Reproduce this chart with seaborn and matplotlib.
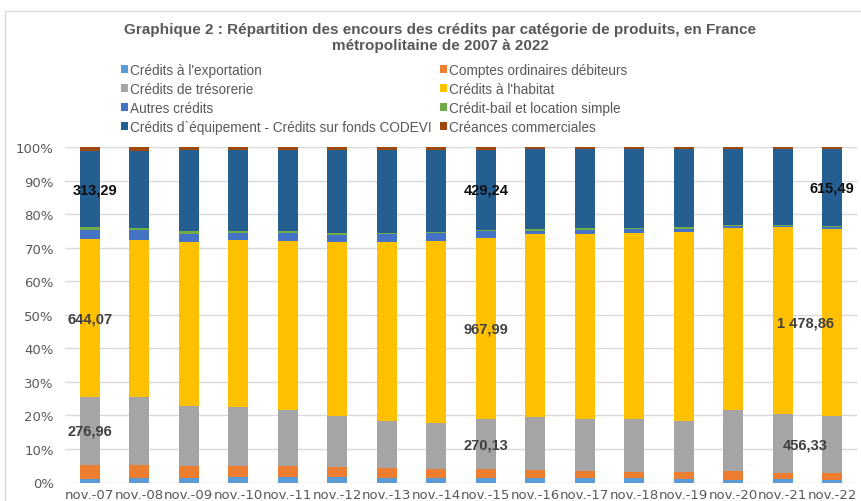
import numpy as np
import pandas as pd
import matplotlib.pyplot as plt
import seaborn as sns
from matplotlib.patches import Patch, Rectangle

# categories (x axis)
annees = ["nov.-07", "nov.-08", "nov.-09", "nov.-10", "nov.-11", "nov.-12", "nov.-13", "nov.-14",
          "nov.-15", "nov.-16", "nov.-17", "nov.-18", "nov.-19", "nov.-20", "nov.-21", "nov.-22"]

# shares in % (bottom to top)
exportation = [1.0, 1.2, 1.3, 1.7, 1.7, 1.7, 1.4, 1.3, 1.3, 1.3, 1.2, 1.2, 1.0, 0.8, 1.0, 0.8]
comptes_ord = [4.3, 4.0, 3.5, 3.3, 3.1, 2.9, 2.9, 2.7, 2.7, 2.4, 2.3, 2.0, 2.1, 2.5, 1.9, 1.9]
tresorerie = [20.3, 20.4, 18.1, 17.6, 16.9, 15.4, 14.1, 13.9, 14.9, 15.9, 15.4, 15.7, 15.3, 18.4, 17.5, 17.1]
habitat = [47.0, 46.8, 49.0, 49.8, 50.4, 51.7, 53.3, 54.2, 54.2, 54.5, 55.4, 55.7, 56.5, 54.2, 55.8, 55.8]
autres = [2.9, 2.9, 2.4, 2.2, 2.3, 2.1, 2.4, 2.3, 2.0, 1.0, 1.2, 1.0, 0.9, 0.6, 0.4, 0.6]
credit_bail = [0.7, 0.6, 0.7, 0.6, 0.6, 0.6, 0.3, 0.4, 0.3, 0.5, 0.4, 0.3, 0.4, 0.3, 0.4, 0.3]
equipement = [22.7, 23.2, 24.4, 24.2, 24.4, 25.0, 25.0, 24.6, 24.0, 24.0, 23.7, 23.7, 23.4, 22.8, 22.6, 23.1]
creances = [1.3, 1.1, 0.8, 0.8, 0.8, 0.8, 0.8, 0.8, 0.8, 0.6, 0.6, 0.6, 0.6, 0.6, 0.6, 0.6]

noms = ["Crédits à l'exportation", "Comptes ordinaires débiteurs", "Crédits de trésorerie",
        "Crédits à l'habitat", "Autres crédits", "Crédit-bail et location simple",
        "Crédits d`équipement - Crédits sur fonds CODEVI", "Créances commerciales"]
couleurs = ["#5B9BD5", "#ED7D31", "#A5A5A5", "#FFC000", "#4472C4", "#70AD47", "#255E91", "#9E480E"]

# data labels (amounts) : year, series, text
lab_annees = ["nov.-07", "nov.-07", "nov.-07", "nov.-15", "nov.-15", "nov.-15", "nov.-22", "nov.-22", "nov.-22"]
lab_series = [2, 3, 6, 2, 3, 6, 2, 3, 6]
lab_textes = ["276,96", "644,07", "313,29", "270,13", "967,99", "429,24", "456,33", "1 478,86", "615,49"]
lab_dx = [0.0, 0.0, 0.1, 0.0, 0.0, 0.0, -0.55, -0.55, 0.0]

df = pd.DataFrame(dict(zip(noms, [exportation, comptes_ord, tresorerie, habitat,
                                   autres, credit_bail, equipement, creances])), index=annees)
df = df.div(df.sum(axis=1), axis=0) * 100
cum = df.cumsum(axis=1)

sns.set_theme(style="white")
plt.rcParams['font.family'] = ['Liberation Sans', 'DejaVu Sans']

fig = plt.figure(figsize=(8.61, 5.02), dpi=100)
ax = fig.add_axes([65 / 861, 1 - 483.5 / 502, 792 / 861, 335.5 / 502])

# stacked bars: draw cumulative totals from the top series down
for nom, c in reversed(list(zip(noms, couleurs))):
    sns.barplot(x=annees, y=cum[nom].values, order=annees, color=c, saturation=1,
                width=0.4, ax=ax, edgecolor="none")

for a, s, t, dx in zip(lab_annees, lab_series, lab_textes, lab_dx):
    i = annees.index(a)
    nom = noms[s]
    y = cum.loc[a, nom] - df.loc[a, nom] / 2
    col = "#0D0D0D" if s == 6 else "#404040"
    ax.text(i + dx, y, t, ha="center", va="center", fontsize=10.5, fontweight="bold", color=col)

ax.set_xlim(-0.5, 15.5)
ax.set_ylim(0, 100)
ax.set_yticks(range(0, 101, 10))
ax.set_yticklabels([f"{v}%" for v in range(0, 101, 10)])
ax.set_xlabel("")
ax.set_ylabel("")
ax.yaxis.grid(True, color="#D9D9D9", lw=1)
ax.set_axisbelow(True)
sns.despine(ax=ax, left=True, bottom=True)
ax.tick_params(axis="y", length=0, pad=8, labelsize=9.5, labelcolor="#595959")
ax.tick_params(axis="x", length=0, pad=4, labelsize=9.5, labelcolor="#595959")
for lb in ax.get_xticklabels():
    lb.set_fontfamily("DejaVu Sans")
for lb in ax.get_yticklabels():
    lb.set_fontfamily("DejaVu Sans")

fig.text(0.511, 1 - 38 / 502,
         "Graphique 2 : Répartition des encours des crédits par catégorie de produits, en France\n"
         "métropolitaine de 2007 à 2022",
         ha="center", va="center", fontsize=11, fontweight="bold", color="#595959", linespacing=1.1)

# legend, filled row by row
handles = [Patch(facecolor=c, edgecolor="none") for c in couleurs]
ordre = [0, 2, 4, 6, 1, 3, 5, 7]
fig.legend([handles[k] for k in ordre], [noms[k] for k in ordre], ncol=2,
           loc="upper left", bbox_to_anchor=(114 / 861, 1 - 57 / 502), frameon=False,
           fontsize=9.8, labelcolor="#595959", handlelength=0.5, handleheight=0.5,
           handletextpad=0.15, columnspacing=0.65, labelspacing=0.37, borderpad=0)

fig.patches.append(Rectangle((5 / 861, -0.01), 0.999, 1 - 12 / 502 + 0.01, transform=fig.transFigure,
                             fill=False, edgecolor="#D9D9D9", lw=1))

fig.savefig("out.png", dpi=100)
